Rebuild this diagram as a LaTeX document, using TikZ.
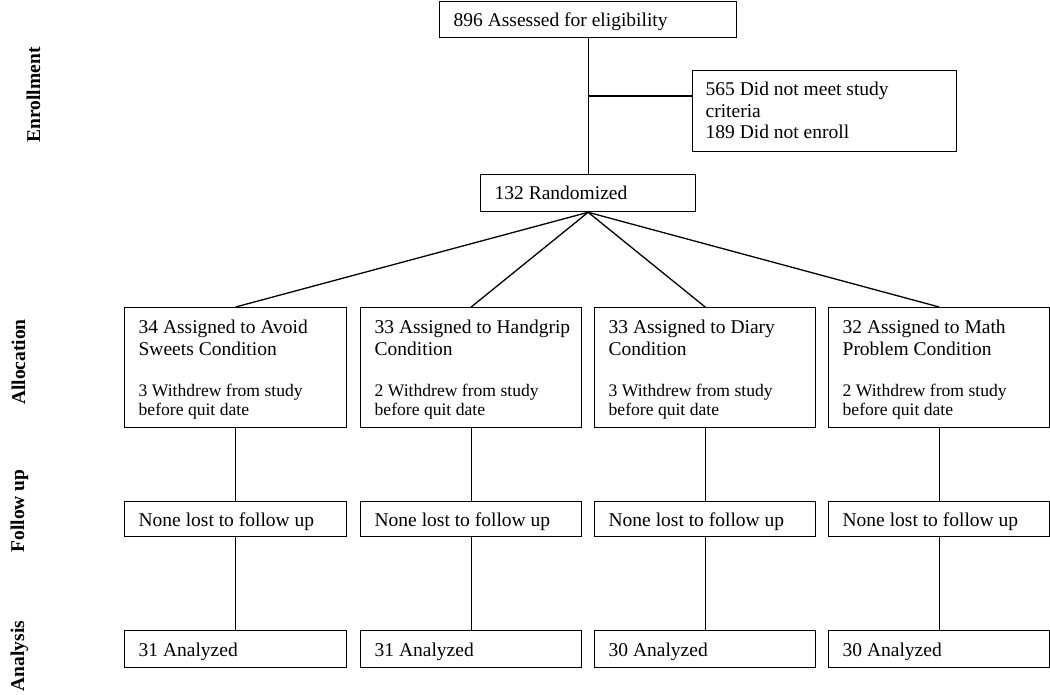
\documentclass[tikz,border=0pt]{standalone}
\usepackage{fontspec}
\setmainfont{Liberation Serif}
\setlength{\parindent}{0pt}
\hyphenpenalty=10000
\hfuzz=20pt
\newcommand{\fsmain}{\fontsize{19.5}{21.5}\selectfont}
\newcommand{\fssmall}{\fontsize{17.6}{19.3}\selectfont}
\newcommand{\alloctext}[4]{\parbox[t]{#1}{\raggedright\mbox{#2}\\#3\par\vspace{22.2pt}\fssmall\mbox{#4}\\before quit date}}
\newcommand{\oneline}[2]{\makebox[#1][l]{#2}}
\begin{document}
\begin{tikzpicture}[x=1pt,y=-1pt,
  box/.style={draw, line width=1.3pt, anchor=north west, inner xsep=14pt, inner ysep=0pt, font=\fsmain},
  one/.style={text height=#1, text depth=0pt},
  conn/.style={line width=1.3pt},
  phase/.style={rotate=90, anchor=base, font=\fontsize{19.5}{21}\selectfont\bfseries}]
\useasboundingbox (0,0) rectangle (1050,695);

% Enrollment
\node[box, one=14pt, minimum height=36pt] (assess) at (439,1) {\oneline{269pt}{896 Assessed for eligibility}};
\node[box, inner xsep=13pt, minimum height=81pt, text height=0pt, text depth=31pt] (excl) at (692,70)
  {\parbox[t]{238pt}{\raggedright 565 Did not meet study\\criteria\\189 Did not enroll}};
\node[box, one=13pt, minimum height=37pt] (rand) at (480,174) {\oneline{187pt}{132 Randomized}};

% Allocation
\node[box, minimum height=120pt, text height=0pt, text depth=68pt] (a1) at (124,307) {\alloctext{194pt}{34 Assigned to Avoid}{Sweets Condition}{3 Withdrew from study}};
\node[box, minimum height=120pt, text height=0pt, text depth=68pt] (a2) at (360,307) {\alloctext{193pt}{33 Assigned to Handgrip}{Condition}{2 Withdrew from study}};
\node[box, minimum height=120pt, text height=0pt, text depth=68pt] (a3) at (594,307) {\alloctext{193pt}{33 Assigned to Diary}{Condition}{3 Withdrew from study}};
\node[box, minimum height=120pt, text height=0pt, text depth=68pt] (a4) at (828,307) {\alloctext{193pt}{32 Assigned to Math}{Problem Condition}{2 Withdrew from study}};

% Follow up
\node[box, one=14.4pt, minimum height=35pt] (f1) at (124,501) {\oneline{194pt}{None lost to follow up}};
\node[box, one=14.4pt, minimum height=35pt] (f2) at (360,501) {\oneline{193pt}{None lost to follow up}};
\node[box, one=14.4pt, minimum height=35pt] (f3) at (594,501) {\oneline{193pt}{None lost to follow up}};
\node[box, one=14.4pt, minimum height=35pt] (f4) at (828,501) {\oneline{193pt}{None lost to follow up}};

% Analysis
\node[box, one=15pt, minimum height=37pt] (n1) at (124,630) {\oneline{194pt}{31 Analyzed}};
\node[box, one=15pt, minimum height=37pt] (n2) at (360,630) {\oneline{193pt}{31 Analyzed}};
\node[box, one=15pt, minimum height=37pt] (n3) at (594,630) {\oneline{193pt}{30 Analyzed}};
\node[box, one=15pt, minimum height=37pt] (n4) at (828,630) {\oneline{193pt}{30 Analyzed}};

% Connectors
\draw[conn] (assess.south) -- (rand.north);
\coordinate (br) at (587.5,96);
\draw[conn] (br) -- (br -| excl.west);
\foreach \i in {1,2,3,4}{
  \draw[conn] (rand.south) -- (a\i.north);
  \draw[conn] (a\i.south) -- (f\i.north);
  \draw[conn] (f\i.south) -- (n\i.north);
}

% Phase labels
\node[phase] (lenr) at (40,95) {Enrollment};
\node[phase] (lall) at (25,362) {Allocation};
\node[phase] (lfol) at (24,511) {Follow up};
\node[phase] (lana) at (24,656) {Analysis};
\end{tikzpicture}
\end{document}
